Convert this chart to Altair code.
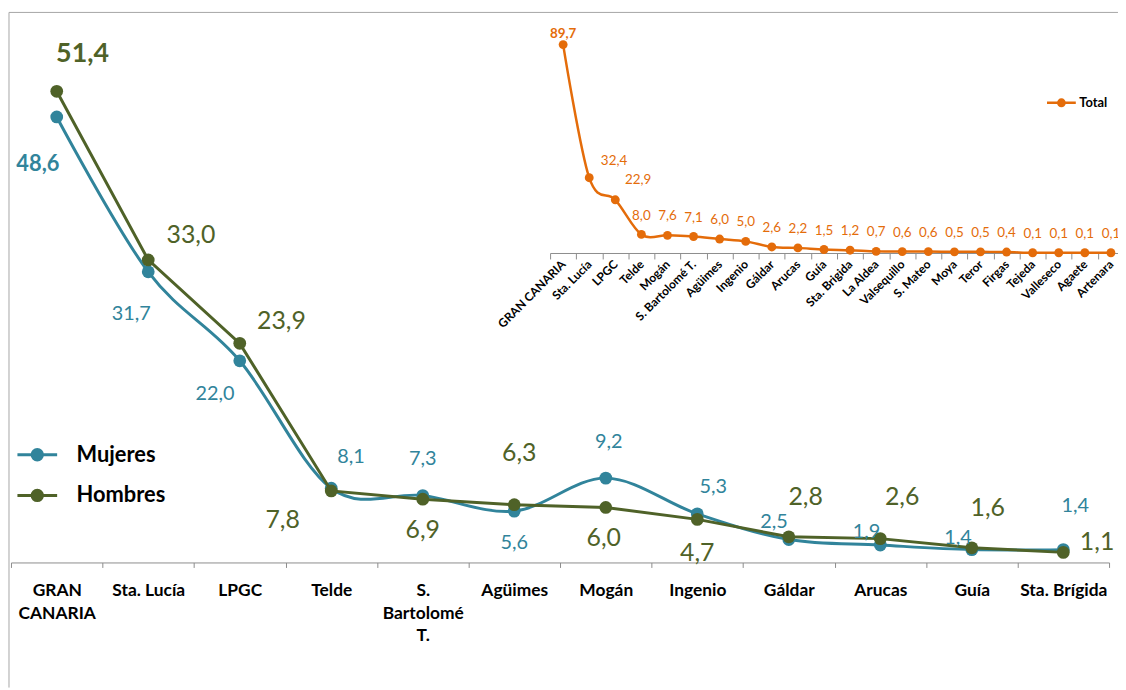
import altair as alt
import pandas as pd

# ---------------- data ----------------
CATS = ["GRAN CANARIA", "Sta. Lucía", "LPGC", "Telde", "S. Bartolomé T.", "Agüimes",
        "Mogán", "Ingenio", "Gáldar", "Arucas", "Guía", "Sta. Brígida"]
SERIES = ["Mujeres", "Hombres"]
MUJERES = [48.6, 31.7, 22.0, 8.1, 7.3, 5.6, 9.2, 5.3, 2.5, 1.9, 1.4, 1.4]
HOMBRES = [51.4, 33.0, 23.9, 7.8, 6.9, 6.3, 6.0, 4.7, 2.8, 2.6, 1.6, 1.1]

INSET_CATS = ["GRAN CANARIA", "Sta. Lucía", "LPGC", "Telde", "Mogán", "S. Bartolomé T.",
              "Agüimes", "Ingenio", "Gáldar", "Arucas", "Guía", "Sta. Brigida", "La Aldea",
              "Valsequillo", "S. Mateo", "Moya", "Teror", "Firgas", "Tejeda", "Valleseco",
              "Agaete", "Artenara"]
TOTAL = [89.7, 32.4, 22.9, 8.0, 7.6, 7.1, 6.0, 5.0, 2.6, 2.2, 1.5, 1.2, 0.7,
         0.6, 0.6, 0.5, 0.5, 0.4, 0.1, 0.1, 0.1, 0.1]

# ---------------- styles ----------------
TEAL = "#31849B"
OLIVE = "#4F6228"
ORANGE = "#E46C0A"
GRAY = "#8C8C8C"
FONT = "Lato"

# label nudges (pixels) for each data label, per series
LABEL_NUDGE = {
    "Mujeres": [(-19, 47), (-17, 42), (-25, 33), (20, -31), (0, -37), (0, 32),
                (3, -36), (16, -27), (-15, -18), (-14, -13), (-14, -12), (12, -44)],
    "Hombres": [(26, -37), (43, -25), (42, -22), (-49, 29), (0, 31), (5, -52),
                (-2, 31), (0, 34), (17, -40), (22, -42), (16, -40), (34, -10)],
}
INSET_NUDGE = {"GRAN CANARIA": (0, -11), "Sta. Lucía": (25, -17), "LPGC": (23, -20)}
INSET_DEFAULT_NUDGE = (0, -19)

main_df = pd.DataFrame({
    "cat": CATS * 2,
    "serie": [SERIES[0]] * len(CATS) + [SERIES[1]] * len(CATS),
    "value": MUJERES + HOMBRES,
})
inset_df = pd.DataFrame({"cat": INSET_CATS, "serie": "Total", "value": TOTAL})

LBL = "replace(format(datum.value, '.1f'), '.', ',')"


def circles_path(radii):
    p = "M-1,0H1"
    for r in radii:
        p += f"M{-r},0A{r},{r},0,1,0,{r},0A{r},{r},0,1,0,{-r},0"
    return p


# ---------------- main chart ----------------
main_axis = alt.Axis(
    orient="bottom", tickBand="extent", tickSize=5, tickColor=GRAY, domainColor=GRAY,
    domainWidth=1, tickWidth=1, grid=False, labelAngle=0, labelAlign="center",
    labelFont=FONT, labelFontSize=17.5, labelFontWeight="bold", labelColor="black",
    labelBaseline="top", labelPadding=14, labelLineHeight=23, labelOverlap=False,
    labelLimit=300,
    labelExpr="datum.label == 'GRAN CANARIA' ? ['GRAN', 'CANARIA'] : "
              "datum.label == 'S. Bartolomé T.' ? ['S.', 'Bartolomé', 'T.'] : datum.label",
)


def mx():
    return alt.X("cat:N", sort=CATS, title=None,
                 scale=alt.Scale(type="band", domain=CATS, range=[3, 1109],
                                 paddingInner=0, paddingOuter=0),
                 axis=main_axis)


def my():
    return alt.Y("value:Q", title=None, axis=None,
                 scale=alt.Scale(domain=[0, 60], range=[556, 2]))


main_legend = alt.Legend(
    orient="none", legendX=8, legendY=426, direction="vertical", padding=0,
    symbolType=circles_path([0.05, 0.12, 0.19, 0.26]), symbolSize=1600,
    symbolStrokeWidth=3, symbolOpacity=1,
    labelFont=FONT, labelFontSize=22, labelFontWeight="bold", labelColor="black",
    labelOffset=18, rowPadding=8,
)
main_color = alt.Color("serie:N", title=None,
                       scale=alt.Scale(domain=SERIES, range=[TEAL, OLIVE]),
                       legend=main_legend)

base = alt.Chart(main_df)
main_layers = []
for s, col in zip(SERIES, [TEAL, OLIVE]):
    interp = "cardinal" if s == "Mujeres" else "linear"
    main_layers.append(
        base.transform_filter(f"datum.serie === '{s}'")
        .mark_line(strokeWidth=3, interpolate=interp)
        .encode(x=mx(), y=my(), color=main_color)
    )
    main_layers.append(
        base.transform_filter(f"datum.serie === '{s}'")
        .mark_circle(size=165, opacity=1, color=col)
        .encode(x=mx(), y=my())
    )

for s, col in zip(SERIES, [TEAL, OLIVE]):
    for i, c in enumerate(CATS):
        dx, dy = LABEL_NUDGE[s][i]
        first = i == 0
        if s == "Mujeres":
            fs = 22 if first else 20
        else:
            fs = 27 if first else 25
        main_layers.append(
            base.transform_filter(f"datum.serie === '{s}' && datum.cat === '{c}'")
            .transform_calculate(lbl=LBL)
            .mark_text(font=FONT, fontSize=fs, fontWeight="bold" if first else "normal",
                       color=col, dx=dx, dy=dy, align="center", baseline="middle")
            .encode(x=mx(), y=my(), text="lbl:N")
        )

main = alt.layer(*main_layers)

# ---------------- inset chart ----------------
inset_axis = alt.Axis(
    orient="bottom", offset=-311.7, tickBand="extent", tickSize=6, tickColor=GRAY,
    domainColor=GRAY, domainWidth=1, grid=False,
    labelAngle=315, labelAlign="right", labelBaseline="middle", labelPadding=3,
    labelFont=FONT, labelFontSize=12, labelFontWeight="bold", labelColor="black",
    labelOverlap=False, labelLimit=300,
)


def ix():
    return alt.X("cat:N", sort=INSET_CATS, title=None,
                 scale=alt.Scale(type="band", domain=INSET_CATS, range=[546, 1124],
                                 paddingInner=0, paddingOuter=0),
                 axis=inset_axis)


def iy():
    return alt.Y("value:Q", title=None, axis=None,
                 scale=alt.Scale(domain=[0, 100], range=[244.3, 10.3]))


inset_legend = alt.Legend(
    orient="none", legendX=1045, legendY=77, direction="vertical", padding=0,
    symbolType=circles_path([0.06, 0.14, 0.22]), symbolSize=841,
    symbolStrokeWidth=2.5, symbolOpacity=1,
    labelFont=FONT, labelFontSize=13, labelFontWeight="bold", labelColor="black",
    labelOffset=2,
)
inset_color = alt.Color("serie:N", title=None,
                        scale=alt.Scale(domain=["Total"], range=[ORANGE]),
                        legend=inset_legend)

ibase = alt.Chart(inset_df)
inset_layers = [
    ibase.mark_line(strokeWidth=2.5, interpolate="cardinal")
    .encode(x=ix(), y=iy(), color=inset_color),
    ibase.mark_circle(size=80, opacity=1, color=ORANGE).encode(x=ix(), y=iy()),
]
special = list(INSET_NUDGE.keys())
default_filter = " && ".join([f"datum.cat !== '{c}'" for c in special])
inset_layers.append(
    ibase.transform_filter(default_filter).transform_calculate(lbl=LBL)
    .mark_text(font=FONT, fontSize=13.5, color=ORANGE, dx=INSET_DEFAULT_NUDGE[0],
               dy=INSET_DEFAULT_NUDGE[1], align="center", baseline="middle")
    .encode(x=ix(), y=iy(), text="lbl:N")
)
for c in special:
    dx, dy = INSET_NUDGE[c]
    inset_layers.append(
        ibase.transform_filter(f"datum.cat === '{c}'").transform_calculate(lbl=LBL)
        .mark_text(font=FONT, fontSize=13.5, color=ORANGE, dx=dx, dy=dy,
                   fontWeight="bold" if c == "GRAN CANARIA" else "normal",
                   align="center", baseline="middle")
        .encode(x=ix(), y=iy(), text="lbl:N")
    )

inset = alt.layer(*inset_layers)

# ---------------- frame ----------------
one = alt.Data(values=[{"k": 1}])
frame_v = alt.Chart(one).mark_rule(color="#A6A6A6", strokeWidth=1).encode(
    x=alt.value(1), y=alt.value(2), y2=alt.value(682))
frame_h = alt.Chart(one).mark_rule(color="#A6A6A6", strokeWidth=1).encode(
    x=alt.value(1), x2=alt.value(1118), y=alt.value(2))

chart = (
    alt.layer(frame_v, frame_h, main, inset)
    .resolve_scale(x="independent", y="independent", color="independent")
    .properties(width=1118, height=556,
                padding={"left": 0, "top": 0, "right": 0, "bottom": 126},
                autosize=alt.AutoSizeParams(type="none"))
    .configure_view(stroke=None)
)

chart.save("out.html", embed_options={"renderer": "svg", "actions": False})
